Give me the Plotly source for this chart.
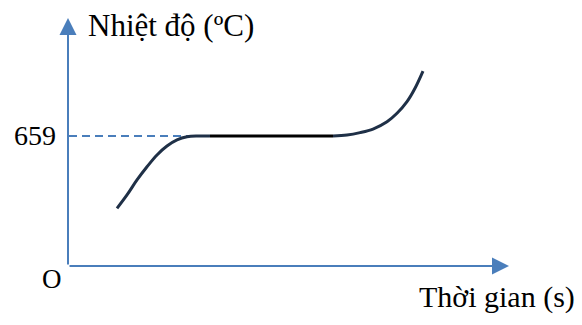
import plotly.graph_objects as go

# Data (time in arbitrary units, temperature in °C)
rise_t = [49, 59, 69, 79, 89, 99, 109, 119, 130, 142]
rise_T = [292, 360, 436, 503, 563, 608, 639, 655, 659, 659]
melt_t = [142, 265]
melt_T = [659, 659]
heat_t = [265, 279, 292, 305, 319, 329, 339, 347, 355]
heat_T = [659, 664, 676, 694, 731, 774, 833, 901, 988]
melt_point = 659

X_MAX = 440
Y_MAX = 1297.7
AX_COLOR = "#4A7EBB"
CURVE = "#1F3047"
FONT = "Liberation Serif, Times New Roman, serif"

W, H = 582, 325
ML, MT, MB = 68, 10, 59
PW, PH = 440, 256


def px(xp):
    return (xp - ML) / PW


def py(yp):
    return (H - MB - yp) / PH


fig = go.Figure()
fig.add_trace(go.Scatter(x=[1, melt_t[0]], y=[melt_point, melt_point], mode="lines",
                         line=dict(color=AX_COLOR, width=1.8, dash="8px,5px"), hoverinfo="skip"))
fig.add_trace(go.Scatter(x=rise_t, y=rise_T, mode="lines", line_shape="spline",
                         line=dict(color=CURVE, width=3), hoverinfo="skip"))
fig.add_trace(go.Scatter(x=melt_t, y=melt_T, mode="lines",
                         line=dict(color="#000000", width=3), hoverinfo="skip"))
fig.add_trace(go.Scatter(x=heat_t, y=heat_T, mode="lines", line_shape="spline",
                         line=dict(color=CURVE, width=3), hoverinfo="skip"))

# axes with arrows
fig.add_annotation(x=441, y=0, ax=0, ay=0, xref="x", yref="y", axref="x", ayref="y",
                   showarrow=True, arrowhead=2, arrowsize=1.7, arrowwidth=2,
                   arrowcolor=AX_COLOR, text="")
fig.add_annotation(x=0, y=1257, ax=0, ay=0, xref="x", yref="y", axref="x", ayref="y",
                   showarrow=True, arrowhead=2, arrowsize=1.7, arrowwidth=2,
                   arrowcolor=AX_COLOR, text="")

fig.add_annotation(x=px(86), y=py(25), xref="paper", yref="paper",
                   text="Nhiệt độ (ºC)", showarrow=False, xanchor="left", yanchor="middle",
                   font=dict(family=FONT, size=31, color="#000"))
fig.add_annotation(x=px(58), y=py(135), xref="paper", yref="paper", text=str(melt_point),
                   showarrow=False, xanchor="right", yanchor="middle",
                   font=dict(family=FONT, size=28, color="#000"))
fig.add_annotation(x=px(51.5), y=py(279), xref="paper", yref="paper", text="O",
                   showarrow=False, xanchor="center", yanchor="middle",
                   font=dict(family=FONT, size=27, color="#000"))
fig.add_annotation(x=px(497), y=py(297), xref="paper", yref="paper", text="Thời gian (s)",
                   showarrow=False, xanchor="center", yanchor="middle",
                   font=dict(family=FONT, size=30, color="#000"))

fig.update_layout(
    width=W, height=H,
    margin=dict(l=ML, r=W - ML - PW, t=MT, b=MB),
    paper_bgcolor="white", plot_bgcolor="white",
    showlegend=False,
    xaxis=dict(range=[0, X_MAX], visible=False, fixedrange=True),
    yaxis=dict(range=[0, Y_MAX], visible=False, fixedrange=True),
)
fig.write_html("out.html")
